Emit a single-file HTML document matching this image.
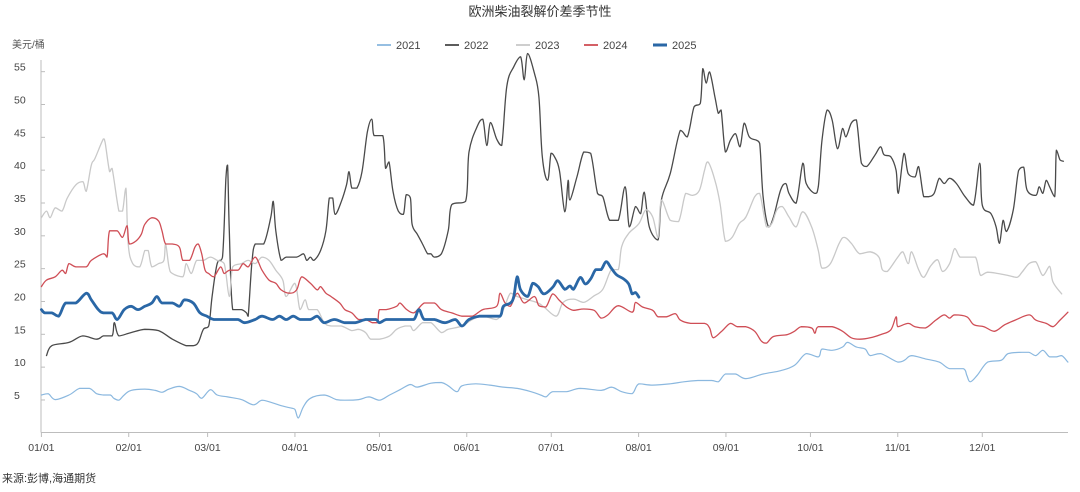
<!DOCTYPE html>
<html><head><meta charset="utf-8">
<style>
html,body{margin:0;padding:0;background:#fff;}
body{width:1080px;height:487px;overflow:hidden;font-family:"Liberation Sans","Noto Sans CJK SC",sans-serif;}
svg text{font-family:"Liberation Sans","Noto Sans CJK SC",sans-serif;}
</style></head>
<body>
<svg id="chart" width="1080" height="487" viewBox="0 0 1080 487" xmlns="http://www.w3.org/2000/svg">
<text x="540" y="16" text-anchor="middle" font-size="13" fill="#333">欧洲柴油裂解价差季节性</text>
<text x="12" y="48" font-size="10" fill="#555">美元/桶</text>
<text x="2" y="482" font-size="11" fill="#333">来源:彭博,海通期货</text>
<g id="axes"></g>
<g id="series"></g>
<g id="legend"></g>
</svg>
<script>
const yTicks = [5,10,15,20,25,30,35,40,45,50,55];
const monthLabels = ["01/01","02/01","03/01","04/01","05/01","06/01","07/01","08/01","09/01","10/01","11/01","12/01"];
const monthDays = [0,31,59,90,120,151,181,212,243,273,304,334];
const years = ["2021","2022","2023","2024","2025"];

const s2021 = [[0,5],[2.4,5.2],[4.9,4.3],[9.8,5],[13.5,6],[17.1,6],[19.6,5.2],[22,5],[24.5,5],[25.7,4.5],[27.5,4.2],[29.4,5],[31.8,5.7],[36.7,5.9],[40.4,5.7],[42.8,5.4],[45.3,5.9],[49,6.3],[52.6,5.7],[55.1,5.2],[56.9,4.5],[60,5.8],[62.4,5],[66.1,4.7],[71,4.3],[75.3,3.5],[78.3,4.2],[82,3.8],[85.7,3.3],[88.7,3],[90,2.8],[91.2,1.5],[93,3.2],[95.5,4.5],[100.4,5],[104.7,4.3],[107.7,4.2],[112.6,4.3],[116.3,4.7],[120,4.2],[123.6,5],[127.3,5.8],[131,6.6],[133.4,6.2],[138.3,6.8],[142,6.9],[144.4,6.4],[147.5,5.5],[149.3,6.4],[154.2,6.7],[159.1,6.5],[164,6.2],[168.9,6],[173.8,5.5],[177.2,5],[179.1,4.7],[181.5,5.5],[186.4,5.5],[191.3,6],[198.7,5.7],[202.3,6.2],[206,5.5],[209.7,5.2],[212.1,6.7],[217,6.5],[223.2,6.7],[228,7],[233,7.2],[237.9,7.2],[240.3,7],[242.8,8.2],[246.4,8.2],[250.1,7.5],[256.2,8.2],[262.4,8.7],[267.3,9.5],[271.5,11.3],[275.8,10.8],[277.1,12],[280.7,11.8],[284.4,12.3],[286.2,13],[289.3,12.3],[292.4,12],[294.2,11],[297.9,11.3],[304,10],[306.4,10.3],[308.9,11],[313.8,10.5],[318.7,10],[322.4,9],[327.3,9],[328.5,8],[329.7,7],[332.2,8],[335.9,10],[340.8,10.3],[343.2,11.3],[348.1,11.5],[350.6,11.5],[353,11],[355.5,11.8],[357.9,10.8],[360.3,10.8],[362.2,11],[364.4,10]];

const s2022 = [[1.8,11],[3.7,12.5],[9.8,13],[14.7,14],[19.6,13.5],[22,14],[25.1,14],[25.9,16],[27.5,14],[31.8,14.5],[36.7,15],[41.6,14.8],[46.5,13.5],[51.4,12.5],[53.9,12.5],[55.7,13],[57.5,15],[59.4,15.5],[60.6,20],[62.4,25],[64.3,26],[65.5,38],[66.1,40],[66.7,30],[67.9,18],[71,18],[72.8,17.5],[73.4,17],[74.7,25],[75.9,28],[78.9,28],[81.4,32],[82.3,34.5],[83.2,30],[85.1,25.5],[86.9,26],[90.6,26],[93,26.5],[94.2,25.5],[95.5,26],[96.7,25.5],[99.1,27],[101,30],[102.2,35],[103.4,35],[104.3,32.5],[106.5,34.5],[108.3,37],[109.2,39],[110.2,36.5],[112,36.5],[113.8,39],[115.7,45],[117.3,47],[118.1,44.5],[121.2,44.5],[122.2,39.5],[123.4,40.5],[124.8,36],[126.7,33],[128.5,32.5],[129.5,35.5],[131,35],[131.6,31],[133.4,29.5],[135.3,28],[137.1,26.5],[138.3,26.5],[139.5,26],[142,26.5],[144.4,30],[145.7,34],[150.6,34.5],[151.8,42],[154.8,46],[156.7,47],[158.1,43],[159.4,46.5],[161.6,44],[163.4,43],[165.2,52],[167.7,55],[170.1,56.5],[171.4,53],[172.6,57],[175,54],[176.6,50.4],[177.8,41.3],[179.7,37.7],[180.9,41.8],[182.1,41.3],[183.9,39.2],[185.8,32.9],[187,37.7],[187.6,34.7],[190.1,38.2],[192.5,42],[195,41.8],[197.4,35.7],[199.3,35.2],[201.7,31.6],[204.8,31.6],[207.2,36.7],[208.7,30.6],[210.9,33.7],[212.7,32.6],[214,35.9],[215.8,30.6],[218.9,28.6],[220.1,34.7],[223.2,38.7],[226.8,45.3],[229.3,44.3],[231.7,48.9],[233.9,49.4],[234.8,54.7],[236,52.5],[237.2,54.2],[239.1,50.4],[240.3,47.9],[241.3,48.4],[242.8,42],[244.6,43.8],[246.4,44.8],[248,42.8],[249.5,46.4],[251.3,44.3],[253.8,43.8],[255,43.3],[256.2,35.2],[258.1,30.6],[259.9,32.1],[262.4,36.2],[264.2,37.2],[265.4,35.7],[267.9,34.2],[270.3,40.3],[271.5,37.2],[274.6,35.7],[275.8,36.7],[277.1,43.8],[278.9,48.4],[280.7,46.9],[282.6,42.5],[284.4,45.6],[285.6,44.3],[287.5,46.4],[289.3,46.9],[291.1,40.3],[293,39.8],[296,41.6],[297.9,42.8],[299.1,41.6],[301.5,41.3],[303.4,39.2],[304.2,35.7],[306.2,41.8],[307.7,38.7],[310.1,38.2],[311.4,39.8],[313.2,35.2],[315,35.2],[316.9,35.7],[318.7,38],[320.5,37.2],[322.4,38],[324.8,37.2],[327.9,35.2],[330.9,33.9],[333.1,40.3],[334,33.9],[337.1,32.6],[338.9,30.6],[340.1,28.1],[341.4,31.6],[342.6,29.9],[345,33.2],[346.9,39.2],[348.7,39.7],[349.9,36.2],[353,35.4],[354.2,36.7],[355.5,35.7],[356.7,37.7],[357.9,36.7],[359.7,35.2],[360.3,42.3],[361.6,40.8],[362.8,40.6]];

const s2023 = [[0,32],[1.8,33],[3.1,32],[4.9,33.5],[7.3,33],[9.2,35],[12.2,37],[14.7,37.5],[15.9,36],[17.7,40],[19,41],[22,44],[22.6,43.5],[24.2,39],[25.1,39.5],[27.5,33],[28.8,33],[30,36.5],[30.8,28],[32.4,25],[34.9,24.5],[36.7,27],[37.9,27],[39.2,24.5],[41.6,25],[43.5,25.5],[44.1,28],[45.3,24.5],[46.5,23.5],[50.2,23],[51.4,25],[53.2,23.5],[55.1,25.5],[57.5,25.5],[60,26],[62.4,25.5],[64.9,25],[66.7,20],[67.9,24.5],[71,25],[73.4,25.5],[75.9,25],[78.3,26],[80.8,25.5],[83.2,24],[85.7,22.5],[86.9,20],[90,22],[91.8,18],[93.6,19.5],[94.9,18],[97.9,18],[100.4,16],[102.8,15.5],[106.5,15.5],[110.2,14.8],[112.6,15],[115.1,14.5],[116.9,13.5],[120,13.5],[123.6,14],[126.1,15],[129.1,15.5],[131,15.5],[132.2,14.8],[135.3,16],[138.3,16],[142,14.5],[144.4,15],[149.3,15.5],[153,16.5],[156.7,17],[161.6,16.5],[164,18],[166.5,20.5],[168.9,20],[172.6,19.5],[176.3,19],[178.4,18.4],[182.7,17],[185.2,19.1],[188.9,19.6],[192.5,19.1],[196.2,20.1],[199.3,21.1],[202.3,24.1],[204.8,24.1],[206,27.6],[208.5,29.6],[212.1,31.1],[214.6,33.2],[217,32.1],[218.9,29],[220.1,34.7],[223.2,31.6],[226.2,31.4],[228.7,35.7],[231.1,35.4],[233.6,36.2],[235.4,39.2],[236.6,40.5],[239.1,37.7],[240.9,34.2],[242.8,28.4],[245.2,29],[247.7,31.1],[250.1,32.1],[253.2,35.2],[255,35.7],[257.4,30.6],[259.3,31.1],[261.1,33.2],[263,33.7],[265.4,32.1],[267.9,30.6],[270.3,32.9],[273.4,30.6],[275.8,27],[277.1,24.3],[280.1,25],[283.2,28.1],[285,29],[287.5,28.1],[290.5,26.5],[294.2,26.8],[297.3,26],[298.5,24.1],[300.3,23.8],[304,26],[305.8,26.8],[307.7,25],[308.9,26.8],[311.4,24.1],[313.2,22.9],[315.6,24.6],[318.1,25.6],[319.9,23.8],[322.4,25],[324.2,27.3],[326.1,26],[328.5,26],[331.6,26],[333.4,23.2],[335.9,23.7],[339.5,23.5],[343.2,23.2],[346.3,22.9],[348.1,23.7],[350.6,25],[353,25.3],[355.5,23.2],[357.9,24.6],[359.1,22.2],[362.2,20.4]];

const s2024 = [[0,21.5],[1.8,22.5],[4.9,23],[7.3,24],[8.6,23.5],[9.8,25],[12.2,24.5],[15.9,24.5],[17.7,25.5],[22,26.5],[23.3,26],[24.2,30],[26.9,30],[28.8,29],[30.4,30.8],[31.2,28],[33.7,28.5],[35.5,29.5],[36.7,31],[39.2,32],[41.6,31.5],[42.8,30],[44.1,28],[46.5,28],[49,27.5],[50.2,25.5],[52.6,25.5],[54.5,27.5],[55.7,28],[56.9,26.5],[58.1,24],[59.4,23.5],[61.2,23],[63.6,24.5],[64.9,23.5],[66.7,24],[69.8,24],[71.6,25],[73.4,24.5],[75.9,26],[78.3,24],[80.8,22.5],[83.2,22],[85.1,21],[88.1,20.5],[90.6,21],[92.4,23],[95.5,22],[97.9,21],[99.1,21.5],[101,20.5],[102.8,20],[105.9,19],[107.7,18],[110.2,17.5],[112.6,16.5],[115.1,16.5],[117.5,16],[119.3,16],[120,18],[122.4,18],[126.1,18.5],[127.3,19],[129.7,18],[132.2,17.5],[135.9,19],[139.5,19],[142,18],[145.7,17.5],[149.3,17],[153,17],[156.7,18],[161.6,18.5],[162.8,20.5],[164.6,19],[166.5,18.5],[168.9,20.5],[171.4,19],[175,20],[176.6,18.6],[179.1,18.4],[181.5,20.4],[183.9,19.4],[186.4,18.4],[188.9,17.9],[192.5,18.1],[196.2,17.9],[198.7,16.7],[201.1,17.2],[204.8,18.6],[209.7,17.6],[210.9,19.1],[213.4,18.4],[217,17.9],[218.9,16.9],[221.9,16.9],[225,17.4],[226.8,16.4],[230.5,15.9],[235.4,15.9],[237.2,15.2],[238.5,13.7],[241.5,14.7],[244.6,15.9],[247,15.4],[250.1,15.4],[253.2,14.7],[255.6,13.2],[257.4,12.9],[259.9,13.9],[264.8,14.2],[267.3,14.7],[269.7,15.4],[273.4,15.2],[274.6,14.4],[275.8,15.4],[280.7,15.4],[284.4,14.7],[287.5,13.7],[290.5,13.5],[294.2,13.7],[297.9,14.2],[301.5,14.9],[303.4,16.9],[304,15.4],[307.7,15.9],[310.1,15.4],[313.8,15.2],[317.5,16.4],[320.5,17.2],[322.4,16.7],[324.2,17.2],[328.5,16.9],[331,15.7],[334.6,15.4],[338.3,14.7],[342,15.7],[345.7,16.4],[350.6,17.2],[353,16.4],[356.7,15.9],[359.1,15.4],[361.6,16.4],[364.4,17.6]];

const s2025 = [[0,18],[1.2,17.5],[3.7,17.5],[6.1,17],[8.6,19],[12.2,19],[15.9,20.5],[17.7,19.5],[20.2,18],[22,17.5],[25.1,17.5],[26.9,16.5],[29.4,18],[31.8,18.5],[34.3,18],[36.7,18.5],[39.2,19],[41,20],[42.8,19],[46.5,19],[49,18.5],[50.8,19.5],[53.9,19],[56.3,17.5],[58.8,17],[61.2,16.5],[66.1,16.5],[69.8,16.5],[72.2,16],[75.9,16.5],[78.3,17],[82,16.5],[84.5,17],[86.9,16.5],[89.4,17],[91.8,16.5],[95.5,16.5],[97.9,17],[100.4,16],[104,16.5],[107.7,16],[111.4,16],[115.1,16.5],[118.7,16.5],[120,16],[122.4,16.5],[126.1,16.5],[128.5,16.5],[132.2,16.5],[134,18],[135.9,16.5],[139.5,16.5],[143.2,16],[146.9,16.5],[149.3,15.5],[151.8,16.5],[155.4,17],[159.1,17],[162.8,17],[164,18.5],[166.5,19],[167.7,20],[168.9,23],[170.1,21],[172.6,20],[174.4,22],[176.3,21.5],[178.4,20.4],[181.5,21.4],[183.3,22.4],[185.8,21.1],[187.6,21.6],[188.9,21.1],[191.3,22.9],[193.1,21.9],[195,22.7],[196.8,24.1],[198.7,24.1],[200.5,25.3],[202.3,24.3],[204.2,23.3],[206.6,22.7],[208.5,21.9],[209.7,20.4],[210.9,20.6],[212.1,19.9]];

const seriesData = [s2021, s2022, s2023, s2024, s2025];
const colors = ["#8bb8df","#4a4a4a","#c9c9c9","#cf4e56","#2a67a6"];
const widths = [1.2,1.3,1.3,1.3,2.8];

const NS = "http://www.w3.org/2000/svg";
const X0 = 41.4, XK = 2.817, Y0 = 427.8, YK = 6.566;
function xScale(d){ return X0 + d*XK; }
function yScale(v){ return Y0 - v*YK; }
function mk(tag, attrs, parent){ const e=document.createElementNS(NS,tag); for(const k in attrs) e.setAttribute(k,attrs[k]); parent.appendChild(e); return e; }
function smoothPath(pts){
  let d='M'+pts[0][0].toFixed(1)+','+pts[0][1].toFixed(1);
  const t=0.18;
  for(let i=0;i<pts.length-1;i++){
    const p0=pts[Math.max(0,i-1)],p1=pts[i],p2=pts[i+1],p3=pts[Math.min(pts.length-1,i+2)];
    let c1x=p1[0]+(p2[0]-p0[0])*t, c1y=p1[1]+(p2[1]-p0[1])*t;
    let c2x=p2[0]-(p3[0]-p1[0])*t, c2y=p2[1]-(p3[1]-p1[1])*t;
    c1x=Math.min(Math.max(c1x,p1[0]),p2[0]); c2x=Math.min(Math.max(c2x,p1[0]),p2[0]);
    const lo=Math.min(p1[1],p2[1]), hi=Math.max(p1[1],p2[1]);
    c1y=Math.min(Math.max(c1y,lo),hi); c2y=Math.min(Math.max(c2y,lo),hi);
    d+=' C'+c1x.toFixed(1)+','+c1y.toFixed(1)+' '+c2x.toFixed(1)+','+c2y.toFixed(1)+' '+p2[0].toFixed(1)+','+p2[1].toFixed(1);
  }
  return d;
}

const axes = document.getElementById('axes');
const yAxis = mk('line',{x1:41,y1:60,x2:41,y2:432.5,stroke:'#bdbdbd','stroke-width':1},axes);


const xAxis = mk('line',{x1:41,y1:432.5,x2:1068,y2:432.5,stroke:'#bdbdbd','stroke-width':1},axes);


yTicks.forEach(v=>{
  const y=yScale(v);
  const t=mk('line',{x1:41,y1:y+5,x2:45,y2:y+5,stroke:'#bdbdbd','stroke-width':1},axes);
  
  
  const l=mk('text',{x:14,y:y+4,'font-size':10.5,fill:'#444'},axes);
  
  
  l.textContent=v;
});
monthLabels.forEach((m,i)=>{
  const x=xScale(monthDays[i]);
  const t=mk('line',{x1:x,y1:432.5,x2:x,y2:437,stroke:'#bdbdbd','stroke-width':1},axes);
  
  
  const l=mk('text',{x:x,y:451,'font-size':10.5,fill:'#444','text-anchor':'middle'},axes);
  
  
  l.textContent=m;
});

const sg=document.getElementById('series');
seriesData.forEach((s,i)=>{
  const pts=s.map(p=>[xScale(p[0]),yScale(p[1])]);
  const p=mk('path',{d:smoothPath(pts),fill:'none',stroke:colors[i],'stroke-width':widths[i],'stroke-linejoin':'round','stroke-linecap':'round'},sg);
  
  
});

const lg=document.getElementById('legend');
const legX=[377,445,516,584,653];
years.forEach((yr,i)=>{
  const g=mk('g',{},lg);
  
  
  mk('line',{x1:legX[i],y1:45,x2:legX[i]+14,y2:45,stroke:colors[i],'stroke-width':i===4?3:1.8},g);
  const t=mk('text',{x:legX[i]+19,y:49,'font-size':11,fill:'#444'},g);
  t.textContent=yr;
});
</script>
</body></html>
